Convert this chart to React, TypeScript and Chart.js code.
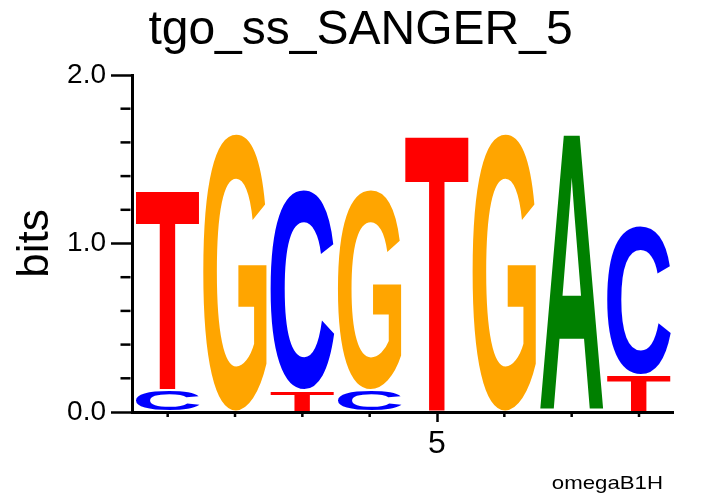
import React, { useEffect, useRef } from "react";
import { Chart, registerables } from "chart.js";

Chart.register(...registerables);

// ---- data ----
const positions = [1, 2, 3, 4, 5, 6, 7, 8];
const heightA = [0, 0, 0, 0, 0, 0, 1.65, 0];
const heightC = [0.13, 0, 1.193, 0.13, 0, 0, 0, 0.89];
const heightG = [0, 1.656, 0, 1.193, 0, 1.656, 0, 0];
const heightT = [1.193, 0, 0.13, 0, 1.65, 0, 0, 0.22];
const yTicks = [0, 0.2, 0.4, 0.6, 0.8, 1.0, 1.2, 1.4, 1.6, 1.8, 2.0];
const labeledX = [5];
const titleText = "tgo_ss_SANGER_5";
const yTitle = "bits";
const cornerLabel = "omegaB1H";

const letterColors: Record<string, string> = {
  A: "#008000",
  C: "#0000ff",
  G: "#ffa500",
  T: "#ff0000",
};

const FONT = '"Liberation Sans", Arial, Helvetica, sans-serif';

function buildLayers() {
  const perLetter: Record<string, number[]> = { A: heightA, C: heightC, G: heightG, T: heightT };
  const stacks = positions.map((_, j) =>
    Object.keys(perLetter)
      .map((l) => ({ l, h: perLetter[l][j] }))
      .filter((e) => e.h > 0)
      .sort((a, b) => a.h - b.h)
  );
  const nLayers = Math.max(...stacks.map((s) => s.length));
  const layers: any[] = [];
  for (let k = 0; k < nLayers; k++) {
    layers.push({
      label: "layer" + k,
      data: positions.map((p, j) => ({ x: p, y: stacks[j][k] ? stacks[j][k].h : 0 })),
      letters: positions.map((_, j) => (stacks[j][k] ? stacks[j][k].l : "")),
      backgroundColor: "rgba(0,0,0,0)",
      borderWidth: 0,
      categoryPercentage: 1,
      barPercentage: 0.945,
    });
  }
  return layers;
}

function drawGlyph(ctx: CanvasRenderingContext2D, letter: string, rx: number, ry: number, rw: number, rh: number, color: string) {
  ctx.save();
  ctx.font = `bold 200px ${FONT}`;
  ctx.textAlign = "left";
  ctx.textBaseline = "alphabetic";
  const m = ctx.measureText(letter);
  const inkW = m.actualBoundingBoxLeft + m.actualBoundingBoxRight;
  const inkH = m.actualBoundingBoxAscent + m.actualBoundingBoxDescent;
  ctx.translate(rx, ry);
  ctx.scale(rw / inkW, rh / inkH);
  ctx.fillStyle = color;
  ctx.fillText(letter, m.actualBoundingBoxLeft, m.actualBoundingBoxAscent);
  ctx.restore();
}

const logoPlugin = {
  id: "logoLetters",
  afterDatasetsDraw(chart: any) {
    const ctx = chart.ctx as CanvasRenderingContext2D;
    const inset = 1;
    chart.data.datasets.forEach((ds: any, i: number) => {
      const meta = chart.getDatasetMeta(i);
      meta.data.forEach((el: any, j: number) => {
        const letter = ds.letters[j];
        if (!letter) return;
        const { x, y, base, width } = el.getProps(["x", "y", "base", "width"], true);
        const top = Math.min(y, base);
        const h = Math.abs(base - y);
        if (h < 2) return;
        drawGlyph(ctx, letter, x - width / 2, top + inset, width, h - 2 * inset, letterColors[letter]);
      });
    });
  },
  afterDraw(chart: any) {
    const ctx = chart.ctx as CanvasRenderingContext2D;
    const ys = chart.scales.y;
    const xs = chart.scales.x;
    ctx.save();
    ctx.strokeStyle = "#000";
    ctx.lineWidth = 2.5;
    // minor y ticks
    ys.ticks.forEach((t: any) => {
      if (Math.abs(t.value - Math.round(t.value)) < 1e-6) return;
      const py = ys.getPixelForValue(t.value);
      ctx.beginPath();
      ctx.moveTo(ys.right - 1.5, py);
      ctx.lineTo(ys.right - 1.5 - 10, py);
      ctx.stroke();
    });
    // minor x ticks
    xs.ticks.forEach((t: any) => {
      if (labeledX.includes(t.value)) return;
      const px = xs.getPixelForValue(t.value);
      ctx.beginPath();
      ctx.moveTo(px, xs.top + 1.5);
      ctx.lineTo(px, xs.top + 5);
      ctx.stroke();
    });
    // corner label
    ctx.fillStyle = "#000";
    ctx.font = `19px ${FONT}`;
    ctx.textAlign = "right";
    ctx.textBaseline = "alphabetic";
    ctx.translate(xs.right - 10, 488.5);
    ctx.scale(1.17, 1);
    ctx.fillText(cornerLabel, 0, 0);
    ctx.restore();
  },
};

export default function App() {
  const ref = useRef<HTMLCanvasElement>(null);
  useEffect(() => {
    if (!ref.current) return;
    const chart = new Chart(ref.current, {
      type: "bar",
      data: { datasets: buildLayers() as any },
      plugins: [logoPlugin as any],
      options: {
        animation: false,
        responsive: false,
        devicePixelRatio: 1,
        layout: { padding: 0 },
        plugins: {
          legend: { display: false },
          tooltip: { enabled: false },
          title: {
            display: true,
            text: titleText,
            color: "#000",
            font: { family: FONT, size: 48, weight: "normal" as any, lineHeight: 1.2 },
            padding: { top: 2, bottom: 15.4 },
          },
        },
        scales: {
          x: {
            type: "linear",
            min: 0.47,
            max: 8.505,
            offset: false,
            stacked: true,
            afterBuildTicks: (s: any) => {
              s.ticks = positions.map((v) => ({ value: v }));
            },
            afterFit: (s: any) => {
              s.height = 84;
            },
            ticks: {
              autoSkip: false,
              maxRotation: 0,
              padding: 3,
              color: "#000",
              font: { family: FONT, size: 32 },
              callback: (v: any) => (labeledX.includes(v) ? String(v) : ""),
            },
            grid: {
              display: true,
              offset: false,
              drawOnChartArea: false,
              drawTicks: true,
              tickLength: 10,
              tickWidth: 2.5,
              tickColor: (c: any) => (c.tick && labeledX.includes(c.tick.value) ? "#000" : "rgba(0,0,0,0)"),
            },
            border: { display: true, color: "#000", width: 3 },
          },
          y: {
            type: "linear",
            min: 0,
            max: 2,
            stacked: true,
            afterBuildTicks: (s: any) => {
              s.ticks = yTicks.map((v) => ({ value: v }));
            },
            afterFit: (s: any) => {
              s.width = 132;
            },
            ticks: {
              autoSkip: false,
              padding: 5,
              color: "#000",
              font: { family: FONT, size: 28 },
              callback: (v: any) => (Math.abs(v - Math.round(v)) < 1e-6 ? Number(v).toFixed(1) : ""),
            },
            grid: {
              display: true,
              drawOnChartArea: false,
              drawTicks: true,
              tickLength: 21,
              tickWidth: 2.5,
              tickColor: (c: any) =>
                c.tick && Math.abs(c.tick.value - Math.round(c.tick.value)) < 1e-6 ? "#000" : "rgba(0,0,0,0)",
            },
            border: { display: true, color: "#000", width: 3 },
            title: {
              display: true,
              text: yTitle,
              color: "#000",
              font: { family: FONT, size: 44, lineHeight: 1.2 },
              padding: { top: 9, bottom: 0 },
            },
          },
          yRight: {
            type: "linear",
            position: "right",
            display: true,
            ticks: { display: false },
            grid: { display: false },
            border: { display: false },
            afterFit: (s: any) => {
              s.width = 48;
            },
          },
        },
      } as any,
    });
    return () => chart.destroy();
  }, []);
  return (
    <div style={{ position: "absolute", left: 0, top: 0, width: 721, height: 496, background: "#fff" }}>
      <canvas ref={ref} width={721} height={496} style={{ display: "block" }} />
    </div>
  );
}
